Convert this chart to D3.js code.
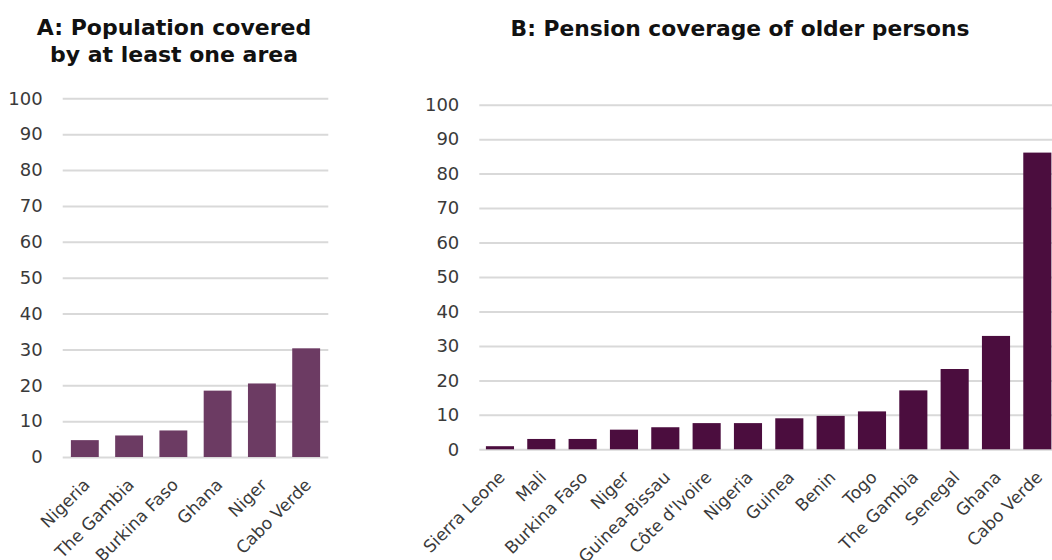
<!DOCTYPE html>
<html>
<head>
<meta charset="utf-8">
<script src="https://cdn.jsdelivr.net/npm/d3@7"></script>
<style>
  html, body { margin: 0; padding: 0; background: #fff; }
  svg { display: block; }
  .title { font-family: "DejaVu Sans", sans-serif; font-weight: bold; fill: #111; }
  .tick text { font-family: "DejaVu Sans", sans-serif; fill: #3a3a3a; }
</style>
</head>
<body>
<svg id="chart" width="1052" height="560"></svg>
<script>
// Panel A: share of population covered by at least one area (%)
const catsA = ["Nigeria", "The Gambia", "Burkina Faso", "Ghana", "Niger", "Cabo Verde"];
const valsA = [4.7, 6.0, 7.4, 18.5, 20.5, 30.3];

// Panel B: pension coverage of older persons (%)
const catsB = ["Sierra Leone", "Mali", "Burkina Faso", "Niger", "Guinea-Bissau", "Côte d'Ivoire",
               "Nigeria", "Guinea", "Benin", "Togo", "The Gambia", "Senegal", "Ghana", "Cabo Verde"];
const valsB = [0.9, 3.0, 3.0, 5.7, 6.4, 7.6, 7.6, 9.0, 9.7, 11.0, 17.1, 23.3, 32.9, 86.1];

const yTicks = [0, 10, 20, 30, 40, 50, 60, 70, 80, 90, 100];

const svg = d3.select("#chart");

function panel(opts) {
  const { cats, vals, left, right, top, bottom, color, padIn, padOut } = opts;
  const g = svg.append("g");

  const x = d3.scaleBand().domain(cats).range([left, right])
    .paddingInner(padIn).paddingOuter(padOut);
  const y = d3.scaleLinear().domain([0, 100]).range([bottom, top]);

  // horizontal gridlines with value labels
  const yAxis = g.append("g")
    .attr("transform", `translate(${left},0)`)
    .call(d3.axisLeft(y).tickValues(yTicks).tickSize(-(right - left)).tickPadding(20));
  yAxis.select(".domain").remove();
  yAxis.selectAll(".tick line").attr("stroke", "#d9d9d9").attr("stroke-width", 2);
  yAxis.selectAll(".tick text").attr("font-size", 18);

  // bars
  g.append("g").selectAll("rect")
    .data(cats.map((c, i) => ({ c, v: vals[i] })))
    .join("rect")
    .attr("x", d => x(d.c))
    .attr("width", x.bandwidth())
    .attr("y", d => y(d.v))
    .attr("height", d => y(0) - y(d.v))
    .attr("fill", color);

  // rotated category labels
  const xAxis = g.append("g")
    .attr("transform", `translate(0,${bottom})`)
    .call(d3.axisBottom(x).tickSize(0));
  xAxis.select(".domain").remove();
  xAxis.selectAll(".tick text")
    .attr("font-size", 17)
    .attr("text-anchor", "end")
    .attr("x", 0).attr("y", 0).attr("dy", 0)
    .attr("transform", "translate(6,29) rotate(-45)");

  return g;
}

panel({ cats: catsA, vals: valsA, left: 62.7, right: 328.3, top: 98.3, bottom: 457,
        color: "#6c3b63", padIn: 0.37, padOut: 0.185 });
panel({ cats: catsB, vals: valsB, left: 479.3, right: 1058, top: 104.7, bottom: 449.3,
        color: "#4b0d3e", padIn: 0.32, padOut: 0.16 });

// titles
const tA = svg.append("text").attr("class", "title").attr("text-anchor", "middle")
  .attr("x", 174).attr("y", 35).attr("font-size", 22);
tA.append("tspan").attr("x", 174).attr("dy", 0).text("A: Population covered");
tA.append("tspan").attr("x", 174).attr("dy", 27).text("by at least one area");

svg.append("text").attr("class", "title").attr("text-anchor", "middle")
  .attr("x", 740).attr("y", 36).attr("font-size", 21.8)
  .text("B: Pension coverage of older persons");
</script>
</body>
</html>
